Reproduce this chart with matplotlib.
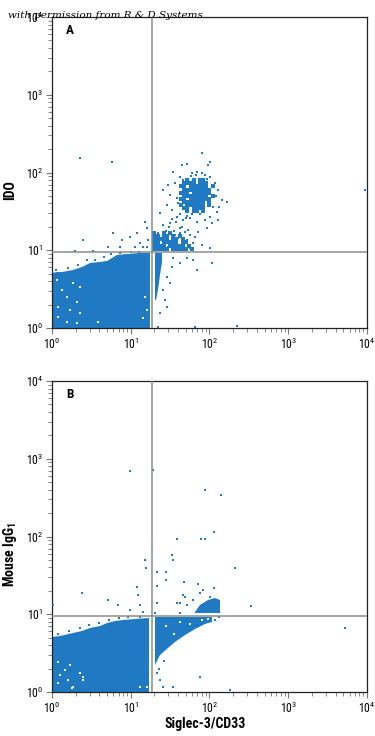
import numpy as np
import matplotlib
matplotlib.use("Agg")
import matplotlib.pyplot as plt
from matplotlib import font_manager as fm
from matplotlib.ticker import LogLocator, LogFormatterSciNotation, NullFormatter

# ---------------- data (log10 decades) ----------------
# Panel A (IDO vs Siglec-3/CD33)
a_blob_x = [0, 0, 0.063, 0.127, 0.267, 0.381, 0.483, 0.610, 0.698, 0.825, 0.952, 1.117, 1.244, 1.244]
a_blob_y = [0, 0.707, 0.720, 0.720, 0.746, 0.785, 0.836, 0.849, 0.862, 0.939, 0.952, 0.965, 0.965, 0]
a_col_x = [1.308, 1.397, 1.397, 1.371, 1.346, 1.321, 1.308]
a_col_y = [0.965, 0.965, 0.849, 0.682, 0.489, 0.36, 0.36]

# dense double-positive cluster, occupancy of 0.04-decade cells (top row first)
a_core_x0, a_core_y0 = 1.64, 1.90
a_core_rows = [
    "..#.#.##...",
    ".####.###..",
    "##.######.#",
    ".#########.",
    "###.######.",
    ".########.#",
    "##.#######.",
    ".#######.#.",
    "#.######.#.",
    ".##.####...",
    "..#.##.#...",
]
a_tail_x0, a_tail_y0 = 1.30, 1.22
a_tail_rows = [
    "#..#.#.......",
    "##.##.#.#....",
    "#####.##.#...",
    "##.#####.##..",
    "####.#####.#.",
    "#####.#####.#",
]
a_pts_x = [1.905, 2.006, 1.981, 1.651, 1.714, 1.778, 1.841, 1.943, 2.006, 1.537, 1.625,
           1.473, 1.562, 1.663, 2.07, 2.108, 2.159, 2.222, 1.41, 1.498, 1.587, 1.60, 1.46,
           1.524, 1.371, 2.044, 2.095, 2.006, 1.587, 1.663, 1.752, 1.841, 1.943, 1.41,
           1.498, 1.625, 1.727, 1.854, 1.968, 1.346, 1.435, 1.524, 1.60, 1.714, 1.79,
           1.905, 1.333, 1.371, 1.473, 1.562, 1.663, 1.752, 2.006, 1.206, 1.181, 1.219,
           1.156, 2.032, 2.108,
           1.62, 1.58, 1.55, 1.65, 1.72, 1.76, 1.83, 1.90, 1.97, 2.08, 2.12,
           1.88, 1.78, 1.70, 1.52, 1.49, 1.45, 1.56, 1.62, 1.69, 1.75, 1.82,
           0.356, 0.762, 0.394, 0.775, 0.889, 0.99, 1.079, 1.117, 0.711, 0.863, 1.054,
           1.206, 0.292, 0.521,
           0.05, 0.20, 0.33, 0.45, 0.55, 0.66, 0.75, 0.86, 1.00, 1.10,
           1.346, 1.816, 2.349, 1.537, 1.625, 1.714, 1.79, 1.841, 2.032, 1.46, 1.41, 1.435,
           1.46, 1.371, 1.524, 1.498, 3.975]
a_pts_y = [2.251, 2.135, 2.096, 2.096, 2.109, 1.994, 2.006, 1.968, 1.942, 2.006, 1.942,
           1.839, 1.865, 1.904, 1.865, 1.775, 1.646, 1.621, 1.775, 1.711, 1.672, 1.608, 1.582,
           1.518, 1.479, 1.556, 1.492, 1.428, 1.428, 1.389, 1.415, 1.363, 1.389, 1.325,
           1.35, 1.286, 1.26, 1.235, 1.286, 1.222, 1.196, 1.17, 1.158, 1.132, 1.093,
           1.068, 1.132, 1.068, 1.042, 1.042, 1.029, 1.029, 1.029, 1.286, 1.363, 1.132,
           1.042, 1.35, 1.389,
           1.47, 1.36, 1.25, 1.30, 1.44, 1.95, 1.97, 1.99, 1.92, 1.70, 1.55,
           1.46, 1.47, 1.42, 1.40, 1.30, 1.25, 1.20, 1.22, 1.24, 1.19, 1.17,
           2.186, 2.135, 1.132, 1.222, 1.132, 1.17, 1.222, 1.093, 1.042, 1.042, 1.042,
           1.042, 0.99, 0.99,
           0.75, 0.77, 0.81, 0.87, 0.88, 0.91, 0.95, 0.97, 0.98, 0.98,
           0.013, 0.013, 0.026, 0.90, 0.836, 0.90, 0.875, 0.746, 0.836, 0.656, 0.489, 0.36,
           0.27, 0.193, 0.785, 0.579, 1.775]
a_holes_x = [0.063, 0.127, 0.19, 0.076, 0.229, 0.317, 0.356, 0.19, 0.317, 0.076, 0.356,
             0.267, 0.584, 1.156, 1.206, 1.181]
a_holes_y = [0.617, 0.489, 0.399, 0.27, 0.232, 0.334, 0.527, 0.077, 0.064, 0.141, 0.193,
             0.579, 0.077, 0.129, 0.232, 0.399]

# Panel B (Mouse IgG1 vs Siglec-3/CD33)
b_blob_x = [0, 0, 0.10, 0.267, 0.381, 0.483, 0.610, 0.698, 0.80, 0.902, 1.054, 1.232, 1.232]
b_blob_y = [0, 0.707, 0.72, 0.759, 0.785, 0.823, 0.849, 0.887, 0.913, 0.926, 0.939, 0.952, 0]
b_band_x = [1.308, 1.562, 1.816, 2.032, 2.032, 1.943, 1.816, 1.689, 1.562, 1.473, 1.371, 1.308]
b_band_y = [0.965, 0.965, 0.965, 0.965, 0.90, 0.875, 0.810, 0.733, 0.643, 0.566, 0.476, 0.347]
b_top_x = [1.816, 1.879, 1.981, 2.07, 2.133, 2.133, 1.816]
b_top_y = [1.029, 1.119, 1.183, 1.209, 1.183, 1.016, 1.016]
b_pts_x = [1.943, 2.146, 2.057, 1.587, 1.892, 1.943, 1.524, 1.537, 1.181, 1.194, 2.324,
           1.333, 1.448, 1.448, 1.676, 1.333, 1.854, 1.917, 2.057, 2.527, 1.689, 1.625,
           1.79, 1.663, 1.714, 1.587, 1.879, 2.006, 1.333, 1.308, 1.625,
           0.99, 1.283, 3.721,
           0.381, 1.079, 1.092, 0.711, 0.838, 1.117, 0.013, 0.99, 1.156,
           0.08, 0.22, 0.35, 0.47, 0.60, 0.72, 0.85, 0.97, 1.12,
           1.333, 1.371, 1.41, 1.537, 1.879, 2.26, 2.07, 2.12, 1.36, 1.42]
b_pts_y = [2.598, 2.534, 2.058, 1.968, 1.968, 1.968, 1.762, 1.698, 1.698, 1.595, 1.595,
           1.543, 1.543, 1.44, 1.415, 1.363, 1.389, 1.312, 1.338, 1.106, 1.222, 1.145,
           1.183, 1.248, 1.119, 1.145, 1.273, 1.222, 1.145, 1.016, 1.016,
           2.842, 2.855, 0.823,
           1.273, 1.35, 1.248, 1.183, 1.119, 1.119, 1.119, 1.055, 1.029,
           0.75, 0.79, 0.82, 0.86, 0.89, 0.92, 0.95, 0.96, 0.97,
           0.244, 0.154, 0.064, 0.064, 0.193, 0.026, 0.93, 0.96, 0.30, 0.40]
b_holes_x = [0.076, 0.229, 0.165, 0.356, 0.10, 0.203, 0.076, 0.254, 0.394, 0.267, 0.394,
             1.117, 1.206, 1.45, 1.62, 1.75, 1.90, 1.55, 1.98]
b_holes_y = [0.386, 0.347, 0.283, 0.244, 0.219, 0.154, 0.116, 0.051, 0.193, 0.064, 0.154,
             0.064, 0.064, 0.85, 0.90, 0.88, 0.93, 0.75, 0.94]

gate_x = 1.27      # vertical quadrant line (log10)
gate_y = 0.98      # horizontal quadrant line (log10)
cell = 0.04        # cytometer channel size in decades

panel_letters = ["A", "B"]
y_labels = ["IDO", "Mouse IgG$_1$"]
x_label = "Siglec-3/CD33"
watermark = "with permission from R & D Systems"

# ---------------- style ----------------
names = {f.name for f in fm.fontManager.ttflist}
cond = "DejaVu Sans"
for cand in ["Liberation Sans Narrow", "Roboto Condensed", "Open Sans Condensed", "DejaVu Sans Condensed"]:
    if cand in names:
        cond = cand
        break
plt.rcParams["font.family"] = [cond, "DejaVu Sans"]
plt.rcParams["mathtext.default"] = "regular"

BLUE = "#1f7ac3"
GATE = "#8c8c8c"
W, H = 375, 736

fig = plt.figure(figsize=(W / 100, H / 100), dpi=100)
axA = fig.add_axes([52 / W, 1 - 328 / H, 315 / W, 311 / H])
axB = fig.add_axes([52 / W, 1 - 692 / H, 315 / W, 311 / H])

def p(v):
    return 10 ** np.asarray(v, dtype=float)

def mask_points(rows, x0, y0):
    xs, ys = [], []
    for r, row in enumerate(rows):
        for c, ch in enumerate(row):
            if ch == "#":
                xs.append(x0 + c * cell)
                ys.append(y0 - r * cell)
    return xs, ys

def setup(ax):
    ax.set_xscale("log")
    ax.set_yscale("log")
    ax.set_xlim(1, 1e4)
    ax.set_ylim(1, 1e4)
    for axis in (ax.xaxis, ax.yaxis):
        axis.set_major_locator(LogLocator(base=10, numticks=10))
        axis.set_major_formatter(LogFormatterSciNotation())
        axis.set_minor_locator(LogLocator(base=10, subs=np.arange(2, 10), numticks=10))
        axis.set_minor_formatter(NullFormatter())
    ax.tick_params(which="major", direction="out", length=4, width=0.8, color="#777777",
                   labelsize=8.5, pad=2)
    ax.tick_params(which="minor", direction="out", length=3, width=0.7, color="#888888")
    for s in ax.spines.values():
        s.set_color("#222222")
        s.set_linewidth(0.9)
    ax.axvline(p(gate_x), color=GATE, lw=1.1, zorder=5)
    ax.axhline(p(gate_y), color=GATE, lw=1.1, zorder=5)

def draw(ax, polys, masks, px, py, hx, hy):
    for xs, ys in polys:
        ax.fill(p(xs), p(ys), color=BLUE, lw=0, zorder=2)
    for rows, x0, y0 in masks:
        mx, my = mask_points(rows, x0, y0)
        ax.plot(p(mx), p(my), ls="none", marker="s", ms=2.3, mew=0, color=BLUE, zorder=3)
    ax.plot(p(px), p(py), ls="none", marker="s", ms=1.9, mew=0, color=BLUE, zorder=3)
    ax.plot(p(hx), p(hy), ls="none", marker="s", ms=1.8, mew=0, color="white", zorder=3)

setup(axA)
setup(axB)
draw(axA, [(a_blob_x, a_blob_y), (a_col_x, a_col_y)],
     [(a_core_rows, a_core_x0, a_core_y0), (a_tail_rows, a_tail_x0, a_tail_y0)],
     a_pts_x, a_pts_y, a_holes_x, a_holes_y)
draw(axB, [(b_blob_x, b_blob_y), (b_band_x, b_band_y), (b_top_x, b_top_y)], [],
     b_pts_x, b_pts_y, b_holes_x, b_holes_y)

for ax, letter in zip([axA, axB], panel_letters):
    ax.text(0.057, 0.955, letter, transform=ax.transAxes, fontsize=9.5, fontweight="bold",
            ha="center", va="center")

fig.text(10 / W, 1 - 190 / H, y_labels[0], rotation=90, fontsize=10, fontweight="bold",
         ha="center", va="center")
fig.text(10 / W, 1 - 555 / H, y_labels[1], rotation=90, fontsize=10, fontweight="bold",
         ha="center", va="center")
fig.text(205 / W, 1 - 724 / H, x_label, fontsize=10, fontweight="bold", ha="center", va="center")
fig.text(8 / W, 1 - 15 / H, watermark, fontsize=7.5, style="italic",
         family=["DejaVu Serif"], ha="left", va="center", zorder=10)

fig.savefig("out.png", dpi=100)
